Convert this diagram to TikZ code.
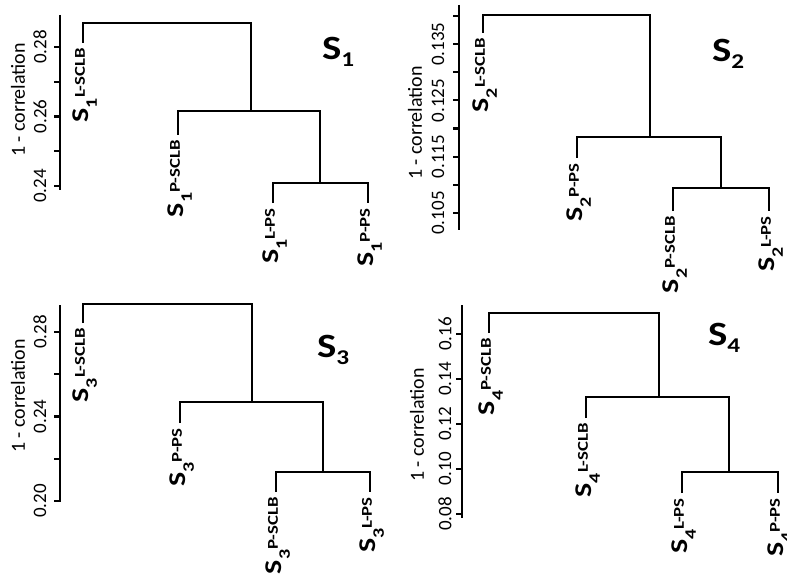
\documentclass[tikz,border=0pt]{standalone}
\usepackage{fontspec}
\setmainfont{Carlito}
\usepackage{graphicx}

% leaf label: S with subscript, then superscript following it
\newcommand{\leaflab}[2]{\scalebox{1.25}[1]{\bfseries\fontsize{24}{24}\selectfont S\raisebox{-8pt}{\fontsize{16}{16}\selectfont #1}\raisebox{4pt}{\fontsize{15}{15}\selectfont #2}}}
% panel title: S with subscript
\newcommand{\ptitle}[1]{\scalebox{1.2}[1]{\bfseries\fontsize{34}{34}\selectfont S\raisebox{-7pt}{\fontsize{21}{21}\selectfont #1}}}

\tikzset{
  tree/.style={line width=2.2pt, line join=miter, line cap=butt},
  axisline/.style={line width=2.2pt},
  leaflabel/.style={rotate=90, anchor=east, inner sep=0pt},
  ticklabel/.style={rotate=90, inner sep=0pt, font=\fontsize{19}{19}\selectfont},
  axistitle/.style={rotate=90, inner sep=0pt, font=\fontsize{20}{20}\selectfont},
  paneltitle/.style={anchor=base west, inner sep=0pt},
}

\begin{document}
\begin{tikzpicture}[x=1pt, y=-1pt]
\useasboundingbox[fill=white] (0,0) rectangle (787,583);

% ---------------- S1 ----------------
\draw[axisline] (60,15) -- (60,190);
\foreach \t in {47,81.75,116.5,151.25,186} \draw[axisline] (54,\t) -- (60,\t);
\node[ticklabel] (y1a) at (40,47) {0.28};
\node[ticklabel] (y1b) at (40,116.5) {0.26};
\node[ticklabel] (y1c) at (40,186) {0.24};
\node[axistitle] (ax1) at (18,100) {1 - correlation};

\coordinate (A1) at (83,43);
\coordinate (B1) at (178,135);
\coordinate (C1) at (273,203);
\coordinate (D1) at (368,203);
\coordinate (R1) at (251,23);
\coordinate (M1) at (251,111);
\coordinate (N1) at (320,183);
\draw[tree] (A1) |- (R1) -- (M1);
\draw[tree] (B1) |- (N1 |- M1) -- (N1);
\draw[tree] (C1) |- (D1 |- N1) -- (D1);
\node[leaflabel] (lA1) at ([xshift=2pt,yshift=-5pt]A1) {\leaflab{1}{L-SCLB}};
\node[leaflabel] (lB1) at ([xshift=2pt,yshift=-5pt]B1) {\leaflab{1}{P-SCLB}};
\node[leaflabel] (lC1) at ([xshift=2pt,yshift=-5pt]C1) {\leaflab{1}{L-PS}};
\node[leaflabel] (lD1) at ([xshift=2pt,yshift=-5pt]D1) {\leaflab{1}{P-PS}};
\node[paneltitle] (t1) at (322,60) {\ptitle{1}};

% ---------------- S2 ----------------
\draw[axisline] (459,5) -- (459,230);
\foreach \t in {16,44.1,72.3,100.4,128.6,156.7,184.9,213} \draw[axisline] (453,\t) -- (459,\t);
\node[ticklabel] (y2a) at (438,44.1) {0.135};
\node[ticklabel] (y2b) at (438,100.4) {0.125};
\node[ticklabel] (y2c) at (438,156.7) {0.115};
\node[ticklabel] (y2d) at (438,213) {0.105};
\node[axistitle] (ax2) at (415,123) {1 - correlation};

\coordinate (A2) at (483,33);
\coordinate (B2) at (577,158);
\coordinate (C2) at (673,211);
\coordinate (D2) at (769,211);
\coordinate (R2) at (650,15);
\coordinate (M2) at (650,137);
\coordinate (N2) at (721,188);
\draw[tree] (A2) |- (R2) -- (M2);
\draw[tree] (B2) |- (N2 |- M2) -- (N2);
\draw[tree] (C2) |- (D2 |- N2) -- (D2);
\node[leaflabel] (lA2) at ([xshift=2pt,yshift=-5pt]A2) {\leaflab{2}{L-SCLB}};
\node[leaflabel] (lB2) at ([xshift=2pt,yshift=-5pt]B2) {\leaflab{2}{P-PS}};
\node[leaflabel] (lC2) at ([xshift=2pt,yshift=-5pt]C2) {\leaflab{2}{P-SCLB}};
\node[leaflabel] (lD2) at ([xshift=2pt,yshift=-5pt]D2) {\leaflab{2}{L-PS}};
\node[paneltitle] (t2) at (712,62) {\ptitle{2}};

% ---------------- S3 ----------------
\draw[axisline] (60,305) -- (60,502);
\foreach \t in {332,374.25,416.5,458.75,501} \draw[axisline] (54,\t) -- (60,\t);
\node[ticklabel] (y3a) at (40,332) {0.28};
\node[ticklabel] (y3b) at (40,416.5) {0.24};
\node[ticklabel] (y3c) at (40,501) {0.20};
\node[axistitle] (ax3) at (18,396) {1 - correlation};

\coordinate (A3) at (83,323);
\coordinate (B3) at (180,423);
\coordinate (C3) at (276,492);
\coordinate (D3) at (370,492);
\coordinate (R3) at (252,304);
\coordinate (M3) at (252,402);
\coordinate (N3) at (323,472);
\draw[tree] (A3) |- (R3) -- (M3);
\draw[tree] (B3) |- (N3 |- M3) -- (N3);
\draw[tree] (C3) |- (D3 |- N3) -- (D3);
\node[leaflabel] (lA3) at ([xshift=2pt,yshift=-5pt]A3) {\leaflab{3}{L-SCLB}};
\node[leaflabel] (lB3) at ([xshift=2pt,yshift=-5pt]B3) {\leaflab{3}{P-PS}};
\node[leaflabel] (lC3) at ([xshift=2pt,yshift=-5pt]C3) {\leaflab{3}{P-SCLB}};
\node[leaflabel] (lD3) at ([xshift=2pt,yshift=-5pt]D3) {\leaflab{3}{L-PS}};
\node[paneltitle] (t3) at (317,357) {\ptitle{3}};

% ---------------- S4 ----------------
\draw[axisline] (462,305) -- (462,518);
\foreach \t in {334,379,424,469,514} \draw[axisline] (456,\t) -- (462,\t);
\node[ticklabel] (y4a) at (445,334) {0.16};
\node[ticklabel] (y4b) at (445,379) {0.14};
\node[ticklabel] (y4c) at (445,424) {0.12};
\node[ticklabel] (y4d) at (445,469) {0.10};
\node[ticklabel] (y4e) at (445,514) {0.08};
\node[axistitle] (ax4) at (417,425) {1 - correlation};

\coordinate (A4) at (489,333);
\coordinate (B4) at (586,418);
\coordinate (C4) at (682,493);
\coordinate (D4) at (778,493);
\coordinate (R4) at (659,313);
\coordinate (M4) at (659,397);
\coordinate (N4) at (729,472);
\draw[tree] (A4) |- (R4) -- (M4);
\draw[tree] (B4) |- (N4 |- M4) -- (N4);
\draw[tree] (C4) |- (D4 |- N4) -- (D4);
\node[leaflabel] (lA4) at ([xshift=2pt,yshift=-5pt]A4) {\leaflab{4}{P-SCLB}};
\node[leaflabel] (lB4) at ([xshift=2pt,yshift=-5pt]B4) {\leaflab{4}{L-SCLB}};
\node[leaflabel] (lC4) at ([xshift=2pt,yshift=-5pt]C4) {\leaflab{4}{L-PS}};
\node[leaflabel] (lD4) at ([xshift=2pt,yshift=-5pt]D4) {\leaflab{4}{P-PS}};
\node[paneltitle] (t4) at (708,345) {\ptitle{4}};
\end{tikzpicture}
\end{document}
